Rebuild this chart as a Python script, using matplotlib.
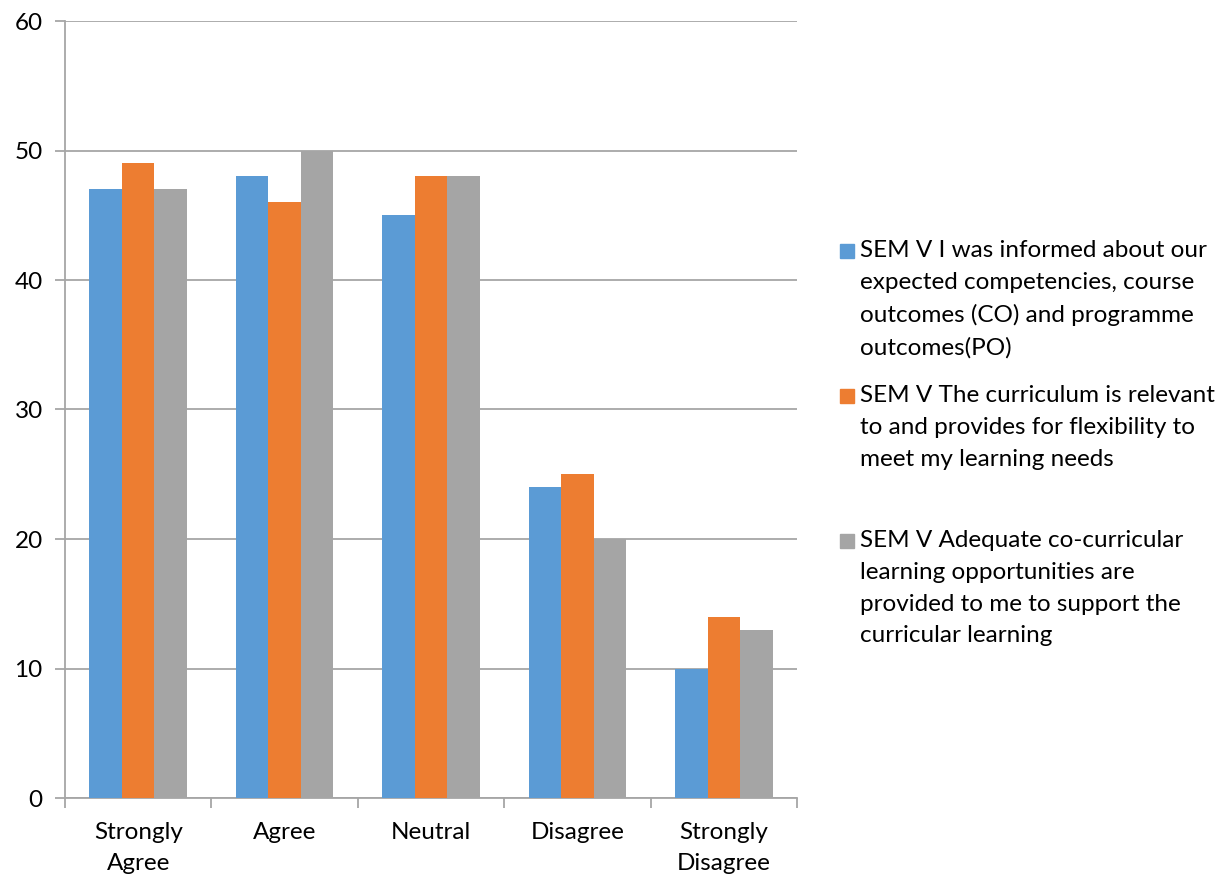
import numpy as np
import matplotlib.pyplot as plt
from matplotlib.patches import Rectangle

plt.rcParams['font.family'] = ['Lato', 'DejaVu Sans']

categories = ['Strongly\nAgree', 'Agree', 'Neutral', 'Disagree', 'Strongly\nDisagree']
informed = [47, 48, 45, 24, 10]
relevant = [49, 46, 48, 25, 14]
cocurricular = [47, 50, 48, 20, 13]

labels = [
    'SEM V I was informed about our\nexpected competencies, course\noutcomes (CO) and programme\noutcomes(PO)',
    'SEM V The curriculum is relevant\nto and provides for flexibility to\nmeet my learning needs',
    'SEM V Adequate co-curricular\nlearning opportunities are\nprovided to me to support the\ncurricular learning',
]
colors = ['#5B9BD5', '#ED7D31', '#A5A5A5']
grid_col = '#A6A6A6'
fs = 17.5

fig = plt.figure(figsize=(12.25, 8.8), dpi=100)
ax = fig.add_axes([65/1225, 82/880, 732/1225, 777/880])

x = np.arange(len(categories))
w = 0.222
for i, vals in enumerate([informed, relevant, cocurricular]):
    ax.bar(x + (i - 1) * w, vals, width=w, color=colors[i], zorder=3)

ax.set_xlim(-0.5, 4.5)
ax.set_ylim(0, 60)
ax.set_yticks(range(0, 61, 10))
ax.yaxis.grid(True, color=grid_col, linewidth=1.3, zorder=0)

ax.set_xticks(x)
ax.set_xticklabels(categories, fontsize=fs, linespacing=1.59)
ax.set_xticks(np.arange(-0.5, 5, 1), minor=True)
ax.tick_params(axis='x', which='major', length=0, pad=17)
ax.tick_params(axis='x', which='minor', length=7, width=1.3, color=grid_col)
ax.tick_params(axis='y', length=7, width=1.3, color=grid_col, labelsize=fs, pad=9)

for s in ['top', 'right']:
    ax.spines[s].set_visible(False)
for s in ['left', 'bottom']:
    ax.spines[s].set_color(grid_col)
    ax.spines[s].set_linewidth(1.3)

# legend drawn by hand so every entry gets the same slot height
for i, (lab, c) in enumerate(zip(labels, colors)):
    off = i * 145
    fig.patches.append(Rectangle((840/1225, (880 - 258 - off)/880), 14/1225, 14/880,
                                 transform=fig.transFigure, color=c))
    fig.text(860/1225, (880 - 240 - off)/880, lab, fontsize=fs, va='top', ha='left',
             linespacing=1.635)

fig.savefig('out.png', dpi=100)
